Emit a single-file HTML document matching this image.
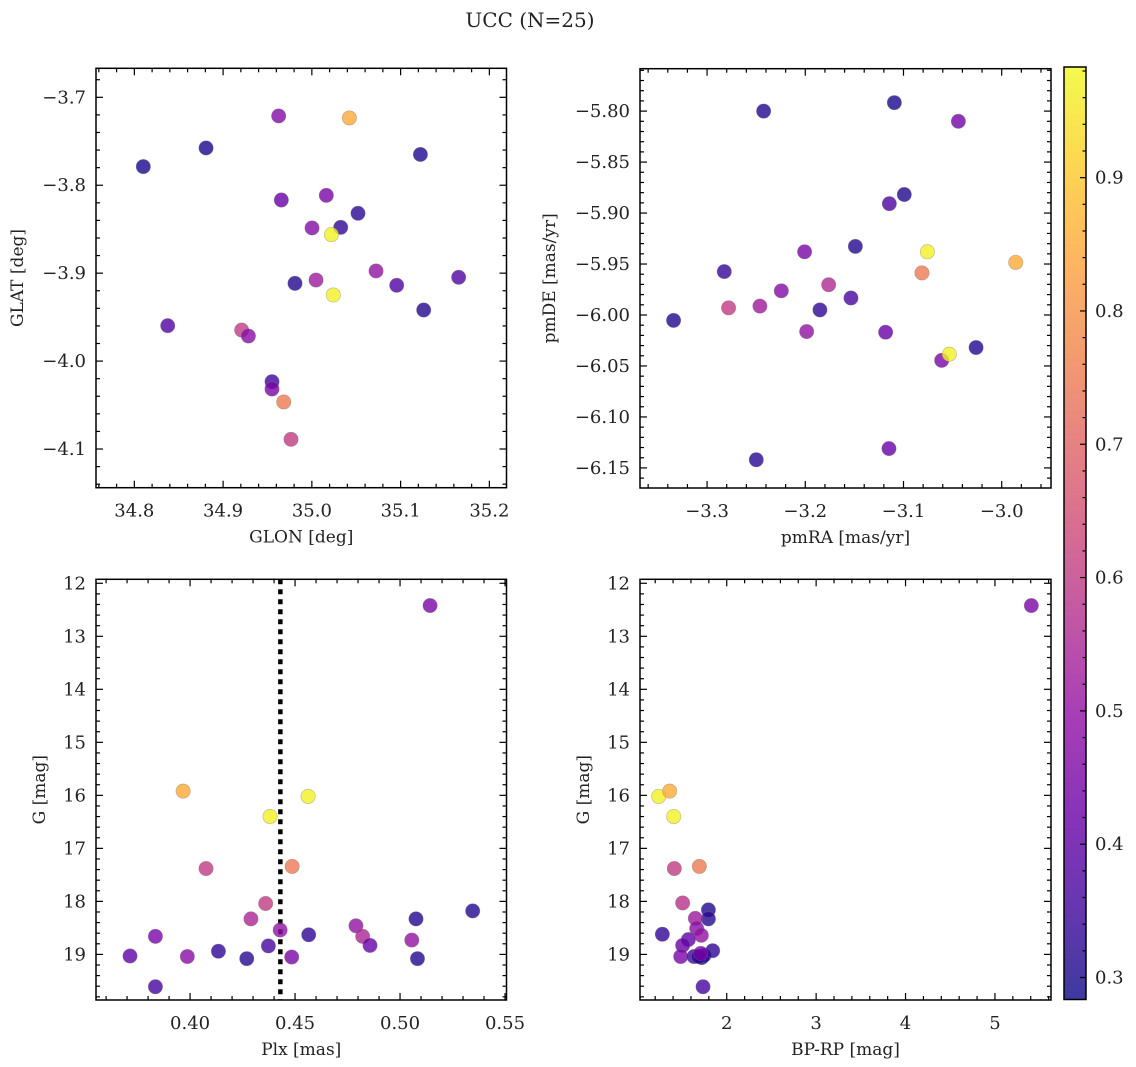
<!DOCTYPE html>
<html><head><meta charset="utf-8"><style>
html,body{margin:0;padding:0;background:#fff;}
svg{display:block;font-family:"DejaVu Serif","Liberation Serif",serif;}
</style></head><body>
<svg id="fig" width="1136" height="1067" viewBox="0 0 1136 1067" xmlns="http://www.w3.org/2000/svg">
<defs><linearGradient id="cbgrad" x1="0" y1="1" x2="0" y2="0"></linearGradient></defs>
<text x="530" y="27" font-size="20" text-anchor="middle" fill="#222">UCC (N=25)</text>
</svg>
<script>
// ---- data: panel 1 (GLON/GLAT)
const glon = [34.9626,35.0423,34.8808,34.8101,35.1223,34.9656,35.0163,35.0520,35.0002,35.0325,35.0220,34.9810,35.0047,35.0723,35.0956,35.1654,35.0242,35.1260,34.8376,34.9209,34.9285,34.9551,34.9551,34.9683,34.9765];
const glat = [-3.7212,-3.7235,-3.7576,-3.7788,-3.7650,-3.8168,-3.8115,-3.8319,-3.8486,-3.8479,-3.8562,-3.9116,-3.9078,-3.8975,-3.9138,-3.9047,-3.9248,-3.9419,-3.9597,-3.9647,-3.9715,-4.0234,-4.0318,-4.0465,-4.0890];
const prob1 = [0.47,0.85,0.30,0.30,0.31,0.42,0.45,0.32,0.47,0.33,0.97,0.31,0.52,0.50,0.38,0.38,0.97,0.31,0.38,0.60,0.48,0.35,0.45,0.75,0.60];
// ---- panel 2 (pmRA/pmDE)
const pmra = [-3.2424,-3.1093,-3.0441,-3.0992,-3.1144,-3.1490,-3.2007,-3.0757,-3.2825,-3.0812,-2.9857,-3.1762,-3.2244,-3.2781,-3.2462,-3.1535,-3.1851,-3.3341,-3.1986,-3.1182,-3.0611,-3.0533,-3.0261,-3.1148,-3.2499];
const pmde = [-5.8000,-5.7917,-5.8100,-5.8818,-5.8908,-5.9327,-5.9380,-5.9380,-5.9574,-5.9587,-5.9484,-5.9703,-5.9763,-5.9930,-5.9913,-5.9833,-5.9950,-6.0053,-6.0162,-6.0169,-6.0445,-6.0385,-6.0319,-6.1310,-6.1420];
const prob2 = [0.31,0.30,0.44,0.31,0.37,0.31,0.45,0.97,0.34,0.75,0.85,0.56,0.47,0.60,0.52,0.36,0.33,0.31,0.50,0.42,0.45,0.97,0.31,0.42,0.32];
// ---- panel 3 (Plx/G)
const plx = [0.5143,0.3967,0.4562,0.4381,0.4076,0.4486,0.4360,0.4290,0.3835,0.4429,0.4565,0.4373,0.4135,0.3714,0.3987,0.4270,0.4484,0.3835,0.4790,0.4822,0.4857,0.5056,0.5076,0.5083,0.5346];
const gPlx = [12.42,15.92,16.02,16.40,17.38,17.34,18.04,18.33,18.66,18.54,18.63,18.84,18.94,19.03,19.04,19.08,19.05,19.61,18.46,18.66,18.83,18.73,18.33,19.08,18.18];
const prob3 = [0.45,0.85,0.97,0.97,0.60,0.75,0.60,0.55,0.45,0.50,0.33,0.36,0.33,0.40,0.48,0.32,0.45,0.36,0.50,0.55,0.42,0.50,0.31,0.31,0.31];
const plxLine = 0.443;
// ---- panel 4 (BP-RP/G)
const bprp = [5.407,1.239,1.362,1.407,1.414,1.694,1.507,1.795,1.795,1.649,1.664,1.716,1.280,1.571,1.507,1.485,1.634,1.720,1.746,1.843,1.735,1.687,1.709];
const gCmd = [12.42,16.02,15.92,16.40,17.38,17.34,18.03,18.16,18.33,18.32,18.51,18.64,18.62,18.72,18.83,19.04,19.04,19.06,19.02,18.93,19.61,19.04,18.98];
const prob4 = [0.45,0.97,0.85,0.97,0.60,0.75,0.58,0.31,0.32,0.52,0.48,0.50,0.33,0.40,0.42,0.45,0.35,0.29,0.32,0.33,0.36,0.32,0.45];
// ---- tick labels
const ticks1x = [34.8,34.9,35.0,35.1,35.2];
const ticks1y = [-3.7,-3.8,-3.9,-4.0,-4.1];
const ticks2x = [-3.3,-3.2,-3.1,-3.0];
const ticks2y = [-5.80,-5.85,-5.90,-5.95,-6.00,-6.05,-6.10,-6.15];
const ticks3x = [0.40,0.45,0.50,0.55];
const ticksG = [12,13,14,15,16,17,18,19];
const ticks4x = [2,3,4,5];
const ticksCb = [0.3,0.4,0.5,0.6,0.7,0.8,0.9];

const NS="http://www.w3.org/2000/svg";
const svg=document.getElementById('fig');
function mk(tag,attrs,parent){const e=document.createElementNS(NS,tag);for(const k in attrs)e.setAttribute(k,attrs[k]);(parent||svg).appendChild(e);return e;}
const plasma=[[13,8,135],[65,4,157],[106,0,168],[143,13,164],[177,42,144],[204,71,120],[225,100,98],[242,132,75],[252,166,54],[252,206,37],[240,249,33]];
function cmap(t){t=Math.max(0,Math.min(1,t));const f=t*10,i=Math.min(9,Math.floor(f)),r=f-i;const a=plasma[i],b=plasma[i+1];return 'rgb('+a.map((v,k)=>Math.round(v+(b[k]-v)*r)).join(',')+')';}
const cmin=0.2835,cmax=0.983;
function cnorm(v){return (v-cmin)/(cmax-cmin);}
function fmt(v,d){return (v<0?'\u2212':'')+Math.abs(v).toFixed(d);}
const TF=18, LF=17;

function panel(o){
  const g=mk('g',{});
  
  
  const sx=v=>o.x0+(v-o.xmin)/(o.xmax-o.xmin)*(o.x1-o.x0);
  const sy=o.inv ? (v=>o.y0+(v-o.ymin)/(o.ymax-o.ymin)*(o.y1-o.y0)) : (v=>o.y0+(o.ymax-v)/(o.ymax-o.ymin)*(o.y1-o.y0));
  const tg=mk('g',{stroke:'#000','stroke-width':1.2},g);
  
  
  const ms=o.xstep/5;
  for(let k=Math.ceil(o.xmin/ms-1e-6);k*ms<=o.xmax+1e-9;k++){const x=sx(k*ms);const L=(k%5===0)?7:4;
    mk('line',{x1:x,x2:x,y1:o.y1,y2:o.y1-L},tg);mk('line',{x1:x,x2:x,y1:o.y0,y2:o.y0+L},tg);}
  const ys=o.ystep/5;
  for(let k=Math.ceil(o.ymin/ys-1e-6);k*ys<=o.ymax+1e-9;k++){const y=sy(k*ys);const L=(k%5===0)?7:4;
    mk('line',{x1:o.x0,x2:o.x0+L,y1:y,y2:y},tg);mk('line',{x1:o.x1,x2:o.x1-L,y1:y,y2:y},tg);}
  o.xt.forEach(v=>{const t=mk('text',{x:sx(v),y:o.y1+29,'font-size':TF,'text-anchor':'middle',fill:'#222'},g);t.textContent=o.xfmt(v);
    });
  o.yt.forEach(v=>{const t=mk('text',{x:o.x0-10,y:sy(v)+6,'font-size':TF,'text-anchor':'end',fill:'#222'},g);t.textContent=o.yfmt(v);
    });
  const xl=mk('text',{x:(o.x0+o.x1)/2,y:o.y1+55,'font-size':LF,'text-anchor':'middle',fill:'#222'},g);xl.textContent=o.xlabel;
  
  const yl=mk('text',{x:0,y:0,'font-size':LF,'text-anchor':'middle',fill:'#222',transform:'translate('+o.ylx+','+(o.y0+o.y1)/2+') rotate(-90)'},g);yl.textContent=o.ylabel;
  
  if(o.vline!==undefined){const l=mk('line',{x1:sx(o.vline),x2:sx(o.vline),y1:o.y0,y2:o.y1,stroke:'#000','stroke-width':4.5,'stroke-dasharray':'5 5'},g);
    }
  const pg=mk('g',{},g);
  o.xs.forEach((v,i)=>{const c=mk('circle',{cx:sx(v),cy:sy(o.ys[i]),r:7.2,fill:cmap(cnorm(o.cs[i])),'fill-opacity':0.8,stroke:'#777','stroke-opacity':0.5,'stroke-width':0.6},pg);
    });
  const fr=mk('rect',{x:o.x0,y:o.y0,width:o.x1-o.x0,height:o.y1-o.y0,fill:'none',stroke:'#000','stroke-width':1.5},g);
  
}
panel({name:'glon-glat-panel',x0:96,x1:506.5,y0:68.3,y1:487.7,xmin:34.7568,xmax:35.2193,ymin:-4.144,ymax:-3.667,xstep:0.1,ystep:0.1,
  xt:ticks1x,yt:ticks1y,xfmt:v=>fmt(v,1),yfmt:v=>fmt(v,1),xlabel:'GLON [deg]',ylabel:'GLAT [deg]',ylx:23,xs:glon,ys:glat,cs:prob1});
panel({name:'pm-panel',x0:640,x1:1051,y0:68.7,y1:488,xmin:-3.3683,xmax:-2.9498,ymin:-6.1697,ymax:-5.7584,xstep:0.1,ystep:0.05,
  xt:ticks2x,yt:ticks2y,xfmt:v=>fmt(v,1),yfmt:v=>fmt(v,2),xlabel:'pmRA [mas/yr]',ylabel:'pmDE [mas/yr]',ylx:555,xs:pmra,ys:pmde,cs:prob2});
panel({name:'plx-g-panel',x0:96,x1:506.5,y0:579.3,y1:1000,xmin:0.3552,xmax:0.5507,ymin:11.925,ymax:19.86,xstep:0.05,ystep:1,inv:true,
  xt:ticks3x,yt:ticksG,xfmt:v=>v.toFixed(2),yfmt:v=>String(v),xlabel:'Plx [mas]',ylabel:'G [mag]',ylx:45,xs:plx,ys:gPlx,cs:prob3,vline:plxLine});
panel({name:'cmd-panel',x0:640,x1:1051,y0:579.3,y1:1000,xmin:1.030,xmax:5.627,ymin:11.925,ymax:19.86,xstep:1,ystep:1,inv:true,
  xt:ticks4x,yt:ticksG,xfmt:v=>String(v),yfmt:v=>String(v),xlabel:'BP-RP [mag]',ylabel:'G [mag]',ylx:589,xs:bprp,ys:gCmd,cs:prob4});

// colorbar
const grad=document.getElementById('cbgrad');
for(let i=0;i<=20;i++){const t=i/20;mk('stop',{offset:t,'stop-color':cmap(t),'stop-opacity':0.8},grad);}
const cb=mk('g',{});
const cbx0=1064,cbx1=1086,cby0=67,cby1=999.5;
mk('rect',{x:cbx0,y:cby0,width:cbx1-cbx0,height:cby1-cby0,fill:'url(#cbgrad)'},cb);
const cy=v=>cby1-(v-cmin)/(cmax-cmin)*(cby1-cby0);
for(let k=15;k*0.02<cmax;k++){const v=k*0.02;const y=cy(v);const maj=(k%5===0);
  mk('line',{x1:cbx1,x2:cbx1-(maj?6:3.5),y1:y,y2:y,stroke:'#000','stroke-width':1.2},cb);}
ticksCb.forEach(v=>{const t=mk('text',{x:1095,y:cy(v)+6,'font-size':TF,fill:'#222'},cb);t.textContent=v.toFixed(1);
  });
mk('rect',{x:cbx0,y:cby0,width:cbx1-cbx0,height:cby1-cby0,fill:'none',stroke:'#000','stroke-width':1.5},cb);
</script>
</body></html>
